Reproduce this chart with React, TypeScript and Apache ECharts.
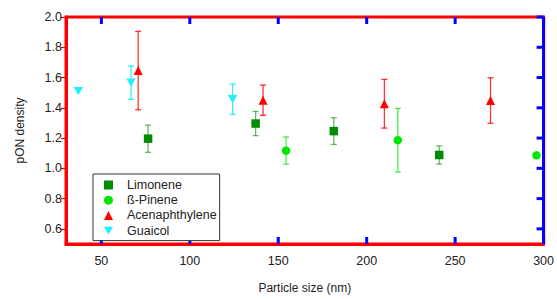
import React, { useEffect, useRef } from "react";
import * as echarts from "echarts";

const seriesNames = ["Limonene", "ß-Pinene", "Acenaphthylene", "Guaicol"];

const limoneneX = [76.4, 137.2, 181.4, 241];
const limoneneY = [1.196, 1.296, 1.246, 1.088];
const limoneneErr = [0.09, 0.08, 0.088, 0.06];

const pineneX = [154.4, 217.6, 296];
const pineneY = [1.117, 1.186, 1.086];
const pineneErr = [0.09, 0.21, 0];

const acenX = [70.8, 141.4, 210, 270];
const acenY = [1.646, 1.45, 1.427, 1.448];
const acenErr = [0.259, 0.1, 0.161, 0.15];

const guaiacolX = [37, 66.8, 124.2];
const guaiacolY = [1.51, 1.566, 1.457];
const guaiacolErr = [0, 0.11, 0.1];

const xTicks = [50, 100, 150, 200, 250, 300];
const yTicks = [0.6, 0.8, 1.0, 1.2, 1.4, 1.6, 1.8, 2.0];

const X_MIN = 30;
const X_MAX = 300;
const Y_MIN = 0.5;
const Y_MAX = 2.0;

const markerColors = ["#008c00", "#00e600", "#ff0000", "#1ef0ff"];
const barColors = ["rgba(0,140,0,0.6)", "rgba(0,230,0,0.7)", "rgba(255,0,0,0.8)", "rgba(0,235,255,0.8)"];

const FONT = "Liberation Sans";
const DOWN_TRIANGLE = "path://M0,0 L10,0 L5,8.66 Z";
const AXIS_COLOR = "#ff0000";
const TICK_COLOR = "#0000ff";

function errData(xs: number[], ys: number[], es: number[]) {
  return xs
    .map((x, i) => [x, ys[i] - es[i], ys[i] + es[i]])
    .filter((d, i) => es[i] > 0);
}

function errSeries(name: string, xs: number[], ys: number[], es: number[], color: string) {
  return {
    name: name + "-err",
    type: "custom",
    z: 1,
    silent: true,
    data: errData(xs, ys, es),
    renderItem: (params: any, api: any) => {
      const x = api.value(0);
      const lo = api.coord([x, api.value(1)]);
      const hi = api.coord([x, api.value(2)]);
      const cap = 3;
      const style = { stroke: color, lineWidth: 1.3 };
      return {
        type: "group",
        children: [
          { type: "line", shape: { x1: lo[0], y1: lo[1], x2: hi[0], y2: hi[1] }, style },
          { type: "line", shape: { x1: lo[0] - cap, y1: lo[1], x2: lo[0] + cap, y2: lo[1] }, style },
          { type: "line", shape: { x1: hi[0] - cap, y1: hi[1], x2: hi[0] + cap, y2: hi[1] }, style },
        ],
      };
    },
  };
}

function scatter(name: string, xs: number[], ys: number[], color: string, symbol: string, size: any) {
  return {
    name,
    type: "scatter",
    z: 3,
    symbol,
    symbolSize: size,
    itemStyle: { color, opacity: 1 },
    data: xs.map((x, i) => [x, ys[i]]),
  };
}

function frameTicks() {
  const nx = xTicks.length;
  const ny = yTicks.length;
  const data = [
    ...xTicks.map((v) => [v, Y_MIN]),
    ...yTicks.map((v) => [X_MAX, v]),
    [X_MAX, Y_MIN],
  ];
  return {
    name: "frame-ticks",
    type: "custom",
    z: 2,
    silent: true,
    clip: false,
    data,
    renderItem: (params: any, api: any) => {
      const i = params.dataIndex;
      const style = { stroke: TICK_COLOR, lineWidth: 3 };
      const len = 7;
      if (i < nx) {
        const v = api.value(0);
        const b = api.coord([v, Y_MIN]);
        const t = api.coord([v, Y_MAX]);
        return {
          type: "group",
          children: [
            { type: "line", shape: { x1: b[0], y1: b[1], x2: b[0], y2: b[1] - len }, style },
            { type: "line", shape: { x1: t[0], y1: t[1], x2: t[0], y2: t[1] + len }, style },
          ],
        };
      }
      if (i < nx + ny) {
        const r = api.coord([X_MAX, api.value(1)]);
        return { type: "line", shape: { x1: r[0], y1: r[1], x2: r[0] - len, y2: r[1] }, style };
      }
      const b = api.coord([X_MAX, Y_MIN]);
      const t = api.coord([X_MAX, Y_MAX]);
      return { type: "line", shape: { x1: b[0], y1: b[1], x2: t[0], y2: t[1] }, style };
    },
  };
}

export default function App() {
  const ref = useRef<HTMLDivElement>(null);
  useEffect(() => {
    if (!ref.current) return;
    const chart = echarts.init(ref.current, null, { renderer: "svg" });
    const axisLine = { show: true, onZero: false, lineStyle: { color: AXIS_COLOR, width: 3 } };
    chart.setOption({
      animation: false,
      textStyle: { fontFamily: FONT },
      grid: {
        left: 66,
        right: 12,
        top: 17,
        bottom: 46,
        containLabel: false,
        show: true,
        borderColor: AXIS_COLOR,
        borderWidth: 3,
      },
      xAxis: {
        type: "value",
        min: X_MIN,
        max: X_MAX,
        position: "bottom",
        name: "Particle size (nm)",
        nameLocation: "middle",
        nameGap: 38,
        nameTextStyle: { fontSize: 12, color: "#222", fontFamily: FONT },
        axisLine,
        axisTick: { show: false },
        axisLabel: { fontSize: 12.5, color: "#222", margin: 10, fontFamily: FONT, customValues: xTicks },
        splitLine: { show: false },
      },
      yAxis: {
        type: "value",
        min: Y_MIN,
        max: Y_MAX,
        position: "left",
        name: "pON density",
        nameLocation: "middle",
        nameGap: 40,
        nameTextStyle: { fontSize: 12, color: "#222", fontFamily: FONT },
        axisLine,
        axisTick: { show: true, inside: false, length: 5, lineStyle: { color: AXIS_COLOR, width: 1.2 }, customValues: yTicks },
        axisLabel: {
          fontSize: 12.5,
          color: "#222",
          margin: 4,
          fontFamily: FONT,
          customValues: yTicks,
          formatter: (v: number) => v.toFixed(1),
        },
        splitLine: { show: false },
      },
      legend: {
        orient: "vertical",
        left: 93,
        top: 174,
        data: seriesNames,
        borderColor: "#333",
        borderWidth: 1,
        padding: [4, 3, 3, 11],
        itemWidth: 9,
        itemHeight: 9,
        itemGap: 1.2,
        textStyle: { fontSize: 12.5, color: "#222", fontFamily: FONT, lineHeight: 14, padding: [0, 0, 0, 9] },
        backgroundColor: "#fff",
      },
      series: [
        frameTicks(),
        errSeries(seriesNames[0], limoneneX, limoneneY, limoneneErr, barColors[0]),
        errSeries(seriesNames[1], pineneX, pineneY, pineneErr, barColors[1]),
        errSeries(seriesNames[2], acenX, acenY, acenErr, barColors[2]),
        errSeries(seriesNames[3], guaiacolX, guaiacolY, guaiacolErr, barColors[3]),
        scatter(seriesNames[0], limoneneX, limoneneY, markerColors[0], "rect", 8.5),
        scatter(seriesNames[1], pineneX, pineneY, markerColors[1], "circle", 8.5),
        scatter(seriesNames[2], acenX, acenY, markerColors[2], "triangle", 9),
        scatter(seriesNames[3], guaiacolX, guaiacolY, markerColors[3], DOWN_TRIANGLE, [9.5, 8.2]),
      ],
    });
    return () => chart.dispose();
  }, []);
  return (
    <div
      ref={ref}
      style={{ position: "absolute", left: 0, top: 0, width: 557, height: 299, background: "#fff" }}
    />
  );
}
